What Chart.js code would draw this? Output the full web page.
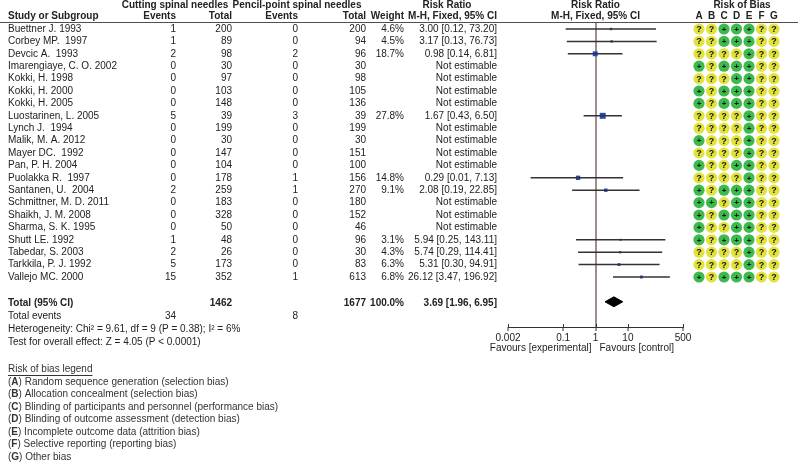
<!DOCTYPE html>
<html lang="en">
<head>
<meta charset="UTF-8">
<title>Cutting vs pencil-point spinal needles</title>
<script src="https://cdn.jsdelivr.net/npm/chart.js@4.4.1/dist/chart.umd.min.js"></script>
<style>
  body { margin: 0; background: #fff; }
</style>
</head>
<body>
<canvas id="myChart" width="800" height="463"></canvas>
<script>
// study rows, top to bottom
const studies = ['Buettner J. 1993', 'Corbey MP.  1997', 'Devcic A.  1993', 'Imarengiaye, C. O. 2002',
  'Kokki, H. 1998', 'Kokki, H. 2000', 'Kokki, H. 2005', 'Luostarinen, L. 2005', 'Lynch J.  1994',
  'Malik, M. A. 2012', 'Mayer DC.  1992', 'Pan, P. H. 2004', 'Puolakka R.  1997', 'Santanen, U.  2004',
  'Schmittner, M. D. 2011', 'Shaikh, J. M. 2008', 'Sharma, S. K. 1995', 'Shutt LE. 1992',
  'Tabedar, S. 2003', 'Tarkkila, P. J. 1992', 'Vallejo MC. 2000'];
const eventsCut = [1, 1, 2, 0, 0, 0, 0, 5, 0, 0, 0, 0, 0, 2, 0, 0, 0, 1, 2, 5, 15];
const totalCut = [200, 89, 98, 30, 97, 103, 148, 39, 199, 30, 147, 104, 178, 259, 183, 328, 50, 48, 26, 173, 352];
const eventsPen = [0, 0, 2, 0, 0, 0, 0, 3, 0, 0, 0, 0, 1, 1, 0, 0, 0, 0, 0, 0, 1];
const totalPen = [200, 94, 96, 30, 98, 105, 136, 39, 199, 30, 151, 100, 156, 270, 180, 152, 46, 96, 30, 83, 613];
const weights = [4.6, 4.5, 18.7, null, null, null, null, 27.8, null, null, null, null, 14.8, 9.1, null, null, null, 3.1, 4.3, 6.3, 6.8];
const riskRatio = [3.00, 3.17, 0.98, null, null, null, null, 1.67, null, null, null, null, 0.29, 2.08, null, null, null, 5.94, 5.74, 5.31, 26.12];
const ciLow = [0.12, 0.13, 0.14, null, null, null, null, 0.43, null, null, null, null, 0.01, 0.19, null, null, null, 0.25, 0.29, 0.30, 3.47];
const ciHigh = [73.20, 76.73, 6.81, null, null, null, null, 6.50, null, null, null, null, 7.13, 22.85, null, null, null, 143.11, 114.41, 94.91, 196.92];
// risk of bias, columns A..G ('+' low risk, '?' unclear)
const biasLetters = ['A', 'B', 'C', 'D', 'E', 'F', 'G'];
const bias = ['??+++??', '??+++??', '????+??', '+?+++??', '???++??', '+?+++??', '+?+++??', '????+??',
  '????+??', '+???+??', '????+??', '+??++??', '????+??', '+?+++??', '++?++??', '+?+++??', '+??++??',
  '+?+++??', '????+??', '????+??', '+?+++??'];
// pooled result
const total = { cut: 1462, pen: 1677, weight: '100.0%', rr: 3.69, lo: 1.96, hi: 6.95 };
const totalEvents = [34, 8];
const tickVals = [0.002, 0.1, 1, 10, 500];
const legendLines = [['A', 'Random sequence generation (selection bias)'], ['B', 'Allocation concealment (selection bias)'],
  ['C', 'Blinding of participants and personnel (performance bias)'], ['D', 'Blinding of outcome assessment (detection bias)'],
  ['E', 'Incomplete outcome data (attrition bias)'], ['F', 'Selective reporting (reporting bias)'], ['G', 'Other bias']];

const FONT = '"Liberation Sans", Arial, sans-serif';
const TXT = '#222';
const totalRow = 22;

const datasets = [];
// confidence interval lines
riskRatio.forEach((v, i) => {
  if (v === null) return;
  datasets.push({
    data: [{ x: ciLow[i], y: i }, { x: ciHigh[i], y: i }],
    showLine: true, borderColor: '#333', borderWidth: 1.5, pointRadius: 0
  });
});
// point estimates, size by weight
const est = [], estSize = [];
riskRatio.forEach((v, i) => {
  if (v === null) return;
  est.push({ x: v, y: i });
  estSize.push(0.8 * Math.sqrt(weights[i]));
});
datasets.push({ data: est, pointStyle: 'rect', pointRadius: estSize, backgroundColor: '#2b47b5', borderWidth: 0 });
// diamond for pooled
datasets.push({
  data: [{ x: total.lo, y: totalRow }, { x: total.rr, y: totalRow - 0.4 }, { x: total.hi, y: totalRow },
    { x: total.rr, y: totalRow + 0.4 }, { x: total.lo, y: totalRow }],
  showLine: true, fill: 'shape', backgroundColor: '#000', borderColor: '#000', borderWidth: 1, pointRadius: 0, tension: 0
});
// risk of bias dots
const lowPts = [], unclearPts = [];
bias.forEach((s, i) => {
  s.split('').forEach((c, j) => (c === '+' ? lowPts : unclearPts).push({ x: j, y: i }));
});
datasets.push({ data: lowPts, xAxisID: 'xb', pointRadius: 5.6, backgroundColor: '#3dba4d', borderWidth: 0, glyph: '+' });
datasets.push({ data: unclearPts, xAxisID: 'xb', pointRadius: 5.6, backgroundColor: '#e2e23c', borderWidth: 0, glyph: '?' });

function txt(ctx, s, x, y, align, bold) {
  ctx.font = (bold ? 'bold ' : '') + '10px ' + FONT;
  ctx.textAlign = align;
  ctx.fillText(s, x, y);
}

const tablePlugin = {
  id: 'table',
  afterDatasetsDraw(chart) {
    const ctx = chart.ctx;
    const x = chart.scales.x;
    ctx.save();
    // axis line only between first and last tick
    ctx.strokeStyle = '#333';
    ctx.lineWidth = 1;
    ctx.beginPath();
    ctx.moveTo(x.getPixelForValue(tickVals[0]), x.top + 0.5);
    ctx.lineTo(x.getPixelForValue(tickVals[tickVals.length - 1]), x.top + 0.5);
    ctx.stroke();
    tickVals.forEach(v => {
      const px = Math.round(x.getPixelForValue(v)) + 0.5;
      ctx.beginPath(); ctx.moveTo(px, x.top - 3); ctx.lineTo(px, x.top + 1); ctx.stroke();
    });
    ctx.fillStyle = '#111';
    ctx.textBaseline = 'middle';
    chart.data.datasets.forEach((ds, k) => {
      if (!ds.glyph) return;
      chart.getDatasetMeta(k).data.forEach(p => {
        ctx.font = 'bold ' + (ds.glyph === '?' ? 9 : 8) + 'px ' + FONT;
        ctx.textAlign = 'center';
        ctx.fillText(ds.glyph, p.x, p.y + 0.5);
      });
    });
    ctx.restore();
  },
  afterDraw(chart) {
    const ctx = chart.ctx;
    const ys = chart.scales.y, xb = chart.scales.xb, x = chart.scales.x;
    ctx.save();
    ctx.fillStyle = TXT;
    ctx.textBaseline = 'middle';
    // headers
    txt(ctx, 'Cutting spinal needles', 175, 5, 'center', true);
    txt(ctx, 'Pencil-point spinal needles', 297, 5, 'center', true);
    txt(ctx, 'Risk Ratio', 447, 5, 'center', true);
    txt(ctx, 'Risk Ratio', x.getPixelForValue(1), 5, 'center', true);
    txt(ctx, 'Risk of Bias', 742, 5, 'center', true);
    const h2 = 16;
    txt(ctx, 'Study or Subgroup', 8, h2, 'left', true);
    txt(ctx, 'Events', 176, h2, 'right', true);
    txt(ctx, 'Total', 232, h2, 'right', true);
    txt(ctx, 'Events', 298, h2, 'right', true);
    txt(ctx, 'Total', 366, h2, 'right', true);
    txt(ctx, 'Weight', 404, h2, 'right', true);
    txt(ctx, 'M-H, Fixed, 95% CI', 497, h2, 'right', true);
    txt(ctx, 'M-H, Fixed, 95% CI', x.getPixelForValue(1), h2, 'center', true);
    biasLetters.forEach((l, j) => txt(ctx, l, xb.getPixelForValue(j), h2, 'center', true));
    ctx.strokeStyle = '#5c4c46';
    ctx.lineWidth = 1;
    ctx.beginPath(); ctx.moveTo(0, 22.5); ctx.lineTo(798, 22.5); ctx.stroke();
    // study rows
    studies.forEach((s, i) => {
      const y = ys.getPixelForValue(i);
      txt(ctx, s, 8, y, 'left');
      txt(ctx, String(eventsCut[i]), 176, y, 'right');
      txt(ctx, String(totalCut[i]), 232, y, 'right');
      txt(ctx, String(eventsPen[i]), 298, y, 'right');
      txt(ctx, String(totalPen[i]), 366, y, 'right');
      if (weights[i] !== null) {
        txt(ctx, weights[i].toFixed(1) + '%', 404, y, 'right');
        txt(ctx, riskRatio[i].toFixed(2) + ' [' + ciLow[i].toFixed(2) + ', ' + ciHigh[i].toFixed(2) + ']', 497, y, 'right');
      } else {
        txt(ctx, 'Not estimable', 497, y, 'right');
      }
    });
    // totals
    const yt = ys.getPixelForValue(totalRow) + 1;
    txt(ctx, 'Total (95% CI)', 8, yt, 'left', true);
    txt(ctx, String(total.cut), 232, yt, 'right', true);
    txt(ctx, String(total.pen), 366, yt, 'right', true);
    txt(ctx, total.weight, 404, yt, 'right', true);
    txt(ctx, total.rr.toFixed(2) + ' [' + total.lo.toFixed(2) + ', ' + total.hi.toFixed(2) + ']', 497, yt, 'right', true);
    txt(ctx, 'Total events', 8, yt + 13, 'left');
    txt(ctx, String(totalEvents[0]), 176, yt + 13, 'right');
    txt(ctx, String(totalEvents[1]), 298, yt + 13, 'right');
    txt(ctx, 'Heterogeneity: Chi\u00b2 = 9.61, df = 9 (P = 0.38); I\u00b2 = 6%', 8, yt + 26, 'left');
    txt(ctx, 'Test for overall effect: Z = 4.05 (P < 0.0001)', 8, yt + 39, 'left');
    // favours labels
    txt(ctx, 'Favours [experimental]', x.getPixelForValue(1) - 4, 348, 'right');
    txt(ctx, 'Favours [control]', x.getPixelForValue(1) + 4, 348, 'left');
    // bias legend
    ctx.fillStyle = '#333';
    txt(ctx, 'Risk of bias legend', 8, 369, 'left');
    const lw = ctx.measureText('Risk of bias legend').width;
    ctx.strokeStyle = '#333';
    ctx.beginPath(); ctx.moveTo(8, 375.5); ctx.lineTo(8 + lw, 375.5); ctx.stroke();
    legendLines.forEach((l, k) => {
      const y = 382 + k * 12.5;
      txt(ctx, '(', 8, y, 'left');
      let cx = 8 + ctx.measureText('(').width;
      txt(ctx, l[0], cx, y, 'left', true);
      cx += ctx.measureText(l[0]).width;
      txt(ctx, ') ' + l[1], cx, y, 'left');
    });
    ctx.restore();
  }
};

// plot area spans forest + bias columns: 508..790 px
// forest log axis: 0.002 at 508, 500 at 683 => max extends to ~1e6 at 790
const logMax = Math.pow(10, Math.log10(500) + (790 - 683) * (Math.log10(500) - Math.log10(0.002)) / (683 - 508));

new Chart(document.getElementById('myChart'), {
  type: 'scatter',
  data: { datasets: datasets },
  options: {
    responsive: false,
    animation: false,
    layout: { padding: { left: 508, right: 10, top: 22, bottom: 116 } },
    plugins: { legend: { display: false }, tooltip: { enabled: false } },
    scales: {
      x: {
        type: 'logarithmic', min: 0.002, max: logMax, bounds: 'data',
        afterBuildTicks: s => { s.ticks = tickVals.map(v => ({ value: v })); },
        afterFit: s => { s.height = 20; },
        ticks: { callback: v => String(v), autoSkip: false, maxRotation: 0, padding: 1, color: TXT, font: { family: FONT, size: 10 } },
        grid: {
          color: c => (c.tick && c.tick.value === 1 ? '#9d8f89' : 'rgba(0,0,0,0)'),
          lineWidth: 2, tickColor: '#333', tickWidth: 1, tickLength: 4
        },
        border: { display: false }
      },
      xb: { type: 'linear', min: -15.28, max: 7.28, display: false },
      y: { type: 'linear', reverse: true, min: -0.5645, max: 24.032, display: false }
    }
  },
  plugins: [tablePlugin]
});
</script>
</body>
</html>
